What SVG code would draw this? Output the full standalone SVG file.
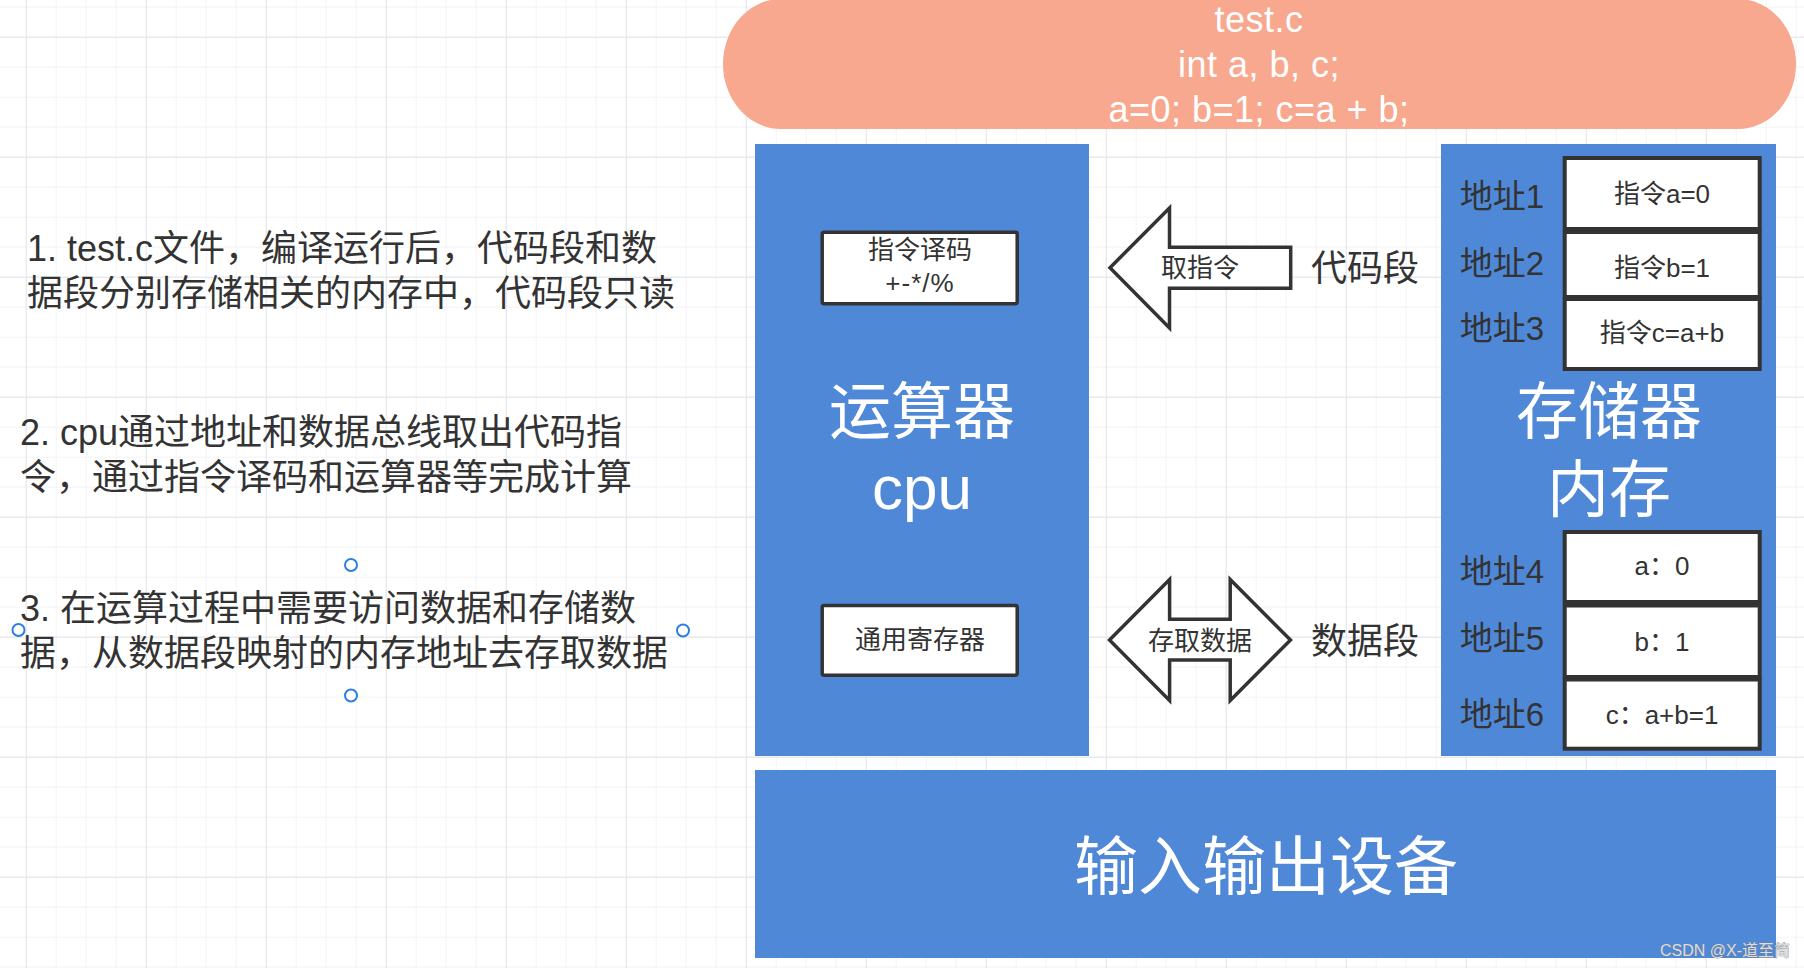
<svg xmlns="http://www.w3.org/2000/svg" width="1804" height="968" viewBox="0 0 1804 968">
  <defs>
    <pattern id="gridMinor" x="25.7" y="6.7" width="30" height="30" patternUnits="userSpaceOnUse">
      <path d="M0 0 V30 M0 0 H30" fill="none" stroke="#eff0f3" stroke-width="1.4"/>
    </pattern>
    <pattern id="gridMajor" x="25.7" y="36.7" width="120" height="120" patternUnits="userSpaceOnUse">
      <path d="M0 0 V120 M0 0 H120" fill="none" stroke="#e3e5ea" stroke-width="1.8"/>
    </pattern>
    <style>
      .t { font-family: "Liberation Sans", "Noto Sans CJK SC", sans-serif; }
      .dark { fill: #333333; }
      .white { fill: #ffffff; }
      .mid { text-anchor: middle; }
      .blue { fill: #4F88D7; }
      .box { fill: #ffffff; stroke: #333333; stroke-width: 3.5; }
      .cell { fill: #ffffff; stroke: #333333; stroke-width: 4; }
      .arrow { fill: #ffffff; stroke: #333333; stroke-width: 3.5; stroke-linejoin: miter; }
      .handle { fill: #ffffff; stroke: #2B7FE3; stroke-width: 2; }
      .note { font-size: 36px; }
      .small { font-size: 26px; }
      .big { font-size: 62px; }
      .addr { font-size: 33px; }
      .seg { font-size: 36px; }
      .code { font-size: 36px; letter-spacing: 0.5px; }
    </style>
  </defs>

  <rect width="1804" height="968" fill="#ffffff"/>
  <rect width="1804" height="968" fill="url(#gridMinor)"/>
  <rect width="1804" height="968" fill="url(#gridMajor)"/>

  <!-- notes on the left -->
  <g id="notes" class="t dark note">
    <text x="27" y="261">1. test.c文件，编译运行后，代码段和数</text>
    <text x="27" y="306">据段分别存储相关的内存中，代码段只读</text>
    <text x="20" y="445">2. cpu通过地址和数据总线取出代码指</text>
    <text x="20" y="490">令，通过指令译码和运算器等完成计算</text>
    <text x="20" y="621">3. 在运算过程中需要访问数据和存储数</text>
    <text x="20" y="666">据，从数据段映射的内存地址去存取数据</text>
  </g>
  <g id="selection-handles">
    <circle class="handle" cx="351" cy="565" r="6"/>
    <circle class="handle" cx="18.5" cy="630" r="6"/>
    <circle class="handle" cx="683" cy="630.5" r="6"/>
    <circle class="handle" cx="351" cy="695.5" r="6"/>
  </g>

  <!-- source file -->
  <g id="source">
    <rect x="723" y="-1" width="1073" height="130" rx="58" ry="65" fill="#F8A88F"/>
    <text class="t white mid code" x="1259" y="32">test.c</text>
    <text class="t white mid code" x="1259" y="77">int a, b, c;</text>
    <text class="t white mid code" x="1259" y="122">a=0; b=1; c=a + b;</text>
  </g>

  <!-- CPU -->
  <g id="cpu">
    <rect class="blue" x="755" y="144" width="334" height="612"/>
    <text class="t white mid big" x="922" y="434">运算器</text>
    <text class="t white mid big" x="922" y="509">cpu</text>
  </g>
  <g id="decoder">
    <rect class="box" x="822.2" y="232.2" width="195" height="71.6" rx="2"/>
    <text class="t dark mid small" x="920" y="259">指令译码</text>
    <text class="t dark mid small" x="920" y="292" letter-spacing="1">+-*/%</text>
  </g>
  <g id="registers">
    <rect class="box" x="822.2" y="605.5" width="195" height="69.7" rx="2"/>
    <text class="t dark mid small" x="920" y="649">通用寄存器</text>
  </g>

  <!-- memory -->
  <g id="memory">
    <rect class="blue" x="1441" y="144" width="335" height="612"/>
    <text class="t white mid big" x="1609" y="434">存储器</text>
    <text class="t white mid big" x="1609" y="512">内存</text>
  </g>
  <g id="addr1">
    <rect class="cell" x="1564.7" y="158" width="195" height="71"/>
    <text class="t dark mid addr" x="1502" y="207.5">地址1</text>
    <text class="t dark mid small" x="1662" y="202.5">指令a=0</text>
  </g>
  <g id="addr2">
    <rect class="cell" x="1564.7" y="232" width="195" height="65"/>
    <text class="t dark mid addr" x="1502" y="275">地址2</text>
    <text class="t dark mid small" x="1662" y="277">指令b=1</text>
  </g>
  <g id="addr3">
    <rect class="cell" x="1564.7" y="299" width="195" height="70"/>
    <text class="t dark mid addr" x="1502" y="340">地址3</text>
    <text class="t dark mid small" x="1662" y="342">指令c=a+b</text>
  </g>
  <g id="addr4">
    <rect class="cell" x="1564.7" y="532" width="195" height="70"/>
    <text class="t dark mid addr" x="1502" y="583">地址4</text>
    <text class="t dark mid small" x="1662" y="575">a：0</text>
  </g>
  <g id="addr5">
    <rect class="cell" x="1564.7" y="605.5" width="195" height="71.5"/>
    <text class="t dark mid addr" x="1502" y="650">地址5</text>
    <text class="t dark mid small" x="1662" y="650.5">b：1</text>
  </g>
  <g id="addr6">
    <rect class="cell" x="1564.7" y="679.5" width="195" height="69.2"/>
    <text class="t dark mid addr" x="1502" y="726">地址6</text>
    <text class="t dark mid small" x="1662" y="724">c：a+b=1</text>
  </g>

  <!-- IO -->
  <g id="io">
    <rect class="blue" x="755" y="770" width="1021" height="188"/>
    <text class="t white mid" x="1266" y="889" font-size="64">输入输出设备</text>
  </g>

  <!-- connectors (block arrows) -->
  <g id="connectors">
    <g id="fetch">
      <polygon class="arrow" points="1110,267.7 1169.5,208 1169.5,247.3 1290.7,247.3 1290.7,288.3 1169.5,288.3 1169.5,328"/>
      <text class="t dark mid small" x="1200" y="277">取指令</text>
    </g>
    <g id="access">
      <polygon class="arrow" points="1109.5,640 1169.6,579.5 1169.6,619.3 1230.2,619.3 1230.2,579.5 1290.5,640 1230.2,700.5 1230.2,660 1169.6,660 1169.6,700.5"/>
      <text class="t dark mid small" x="1200" y="650">存取数据</text>
    </g>
  </g>

  <!-- segment labels -->
  <g id="code-seg">
    <text class="t dark seg" x="1311" y="281">代码段</text>
  </g>
  <g id="data-seg">
    <text class="t dark seg" x="1311" y="654">数据段</text>
  </g>

  <!-- watermark -->
  <text class="t" x="1660" y="956" font-size="16" fill="#dcdcdc" stroke="#7f7f7f" stroke-width="0.6" paint-order="stroke">CSDN @X-道至简</text>
</svg>
